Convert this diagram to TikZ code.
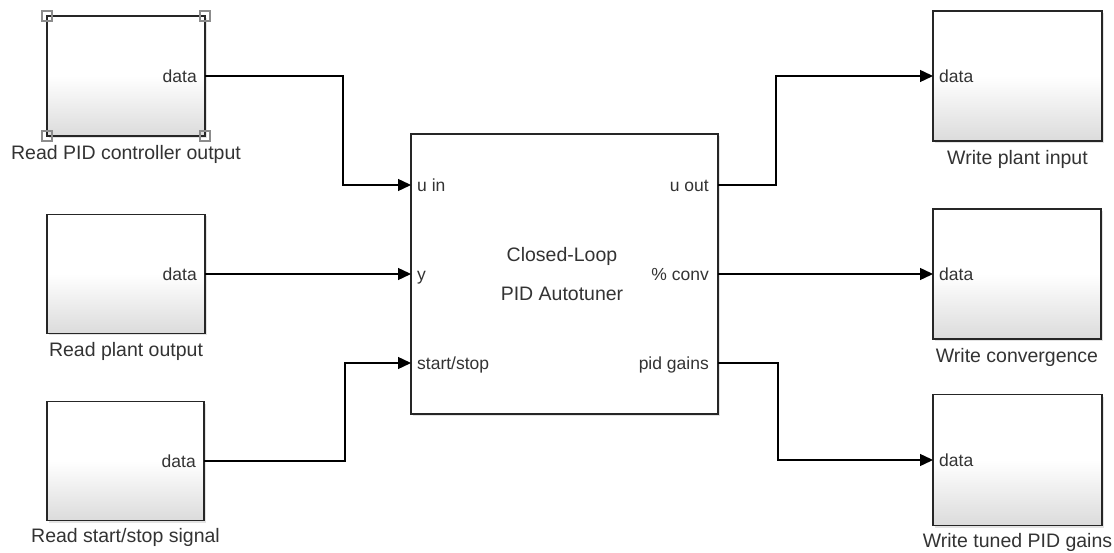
\documentclass[tikz,border=0pt]{standalone}
\usepackage{fontspec}
\setmainfont{Liberation Sans}
\usetikzlibrary{arrows.meta,shadows}
\begin{document}
\begin{tikzpicture}[x=1pt,y=-1pt,
  blk/.style={draw=black!85, line width=1.3pt, inner sep=0pt, outer sep=0pt,
    top color=white, bottom color=black!14, middle color=white,
    drop shadow={shadow xshift=2pt, shadow yshift=-2pt, opacity=0.22}},
  cblk/.style={draw=black!85, line width=1.3pt, inner sep=0pt, outer sep=0pt, fill=white,
    drop shadow={shadow xshift=2pt, shadow yshift=-2pt, opacity=0.22}},
  portl/.style={font=\fontsize{17.5pt}{20pt}\selectfont, text=black!80, inner sep=0pt,
    text height=12.6pt, text depth=0pt},
  lbl/.style={font=\fontsize{19.5pt}{22pt}\selectfont, text=black!80, inner sep=0pt},
  conn/.style={draw=black, line width=1.4pt, -{Triangle[length=13pt,width=12pt]}},
  hdl/.style={draw=black!45, line width=1.1pt}
]
\useasboundingbox[fill=white] (0,0) rectangle (1114,553);

% source blocks
\node[blk, minimum width=158pt, minimum height=120pt] (rpid) at (126,76) {};
\node[blk, minimum width=158pt, minimum height=119pt] (rpo) at (126,274) {};
\node[blk, minimum width=157pt, minimum height=119pt] (rss) at (125.5,461) {};
% autotuner
\node[cblk, minimum width=307pt, minimum height=280pt] (ac) at (564.5,274) {};
% sink blocks
\node[blk, minimum width=169pt, minimum height=130pt] (wpi) at (1017.5,76) {};
\node[blk, minimum width=168pt, minimum height=130pt] (wc) at (1017,274) {};
\node[blk, minimum width=169pt, minimum height=131pt] (wg) at (1017.5,460) {};

% selection handles
\foreach \a in {north west,north east,south west,south east}
  \draw[hdl] (rpid.\a) ++(-5,-5) rectangle ++(10,10);

% ports of autotuner
\coordinate (uin)  at ([yshift=89pt]ac.west);
\coordinate (yin)  at (ac.west);
\coordinate (ssin) at ([yshift=-89pt]ac.west);
\coordinate (uout) at ([yshift=89pt]ac.east);
\coordinate (conv) at (ac.east);
\coordinate (pidg) at ([yshift=-89pt]ac.east);

% port labels
\node[portl, anchor=east] (rpid-d) at ([xshift=-8pt]rpid.east) {data};
\node[portl, anchor=east] (rpo-d) at ([xshift=-8pt]rpo.east) {data};
\node[portl, anchor=east] (rss-d) at ([xshift=-8pt]rss.east) {data};
\node[portl, anchor=west] (wpi-d) at ([xshift=6pt]wpi.west) {data};
\node[portl, anchor=west] (wc-d) at ([xshift=6pt]wc.west) {data};
\node[portl, anchor=west] (wg-d) at ([xshift=6pt]wg.west) {data};
\node[portl, anchor=west] (uin-l) at ([xshift=6pt]uin) {u in};
\node[portl, anchor=west] (yin-l) at ([xshift=6pt]yin) {y};
\node[portl, anchor=west] (ssin-l) at ([xshift=6pt]ssin) {start/stop};
\node[portl, anchor=east] (uout-l) at ([xshift=-9pt]uout) {u out};
\node[portl, anchor=east] (conv-l) at ([xshift=-9pt]conv) {\% conv};
\node[portl, anchor=east] (pidg-l) at ([xshift=-9pt]pidg) {pid gains};

% center text
\node[lbl, anchor=base] (t1) at ([xshift=-2.5pt,yshift=12.3pt]ac.center) {Closed-Loop};
\node[lbl, anchor=base] (t2) at ([xshift=-2.5pt,yshift=-27pt]ac.center) {PID Autotuner};

% block names
\node[lbl, anchor=base] (rpid-n) at ([yshift=-23.5pt]rpid.south) {Read PID controller output};
\node[lbl, anchor=base] (rpo-n) at ([yshift=-23pt]rpo.south) {Read plant output};
\node[lbl, anchor=base] (rss-n) at ([yshift=-21.5pt]rss.south) {Read start/stop signal};
\node[lbl, anchor=base] (wpi-n) at ([yshift=-23.5pt]wpi.south) {Write plant input};
\node[lbl, anchor=base] (wc-n) at ([yshift=-23.5pt]wc.south) {Write convergence};
\node[lbl, anchor=base] (wg-n) at ([yshift=-21.5pt]wg.south) {Write tuned PID gains};

% connectors
\draw[conn] (rpid.east) -- ++(138,0) |- (uin);
\draw[conn] (rpo.east) -- (yin);
\draw[conn] (rss.east) -- ++(141,0) |- (ssin);
\draw[conn] (uout) -- ++(58,0) |- (wpi.west);
\draw[conn] (conv) -- (wc.west);
\draw[conn] (pidg) -- ++(60,0) |- (wg.west);
\end{tikzpicture}
\end{document}
